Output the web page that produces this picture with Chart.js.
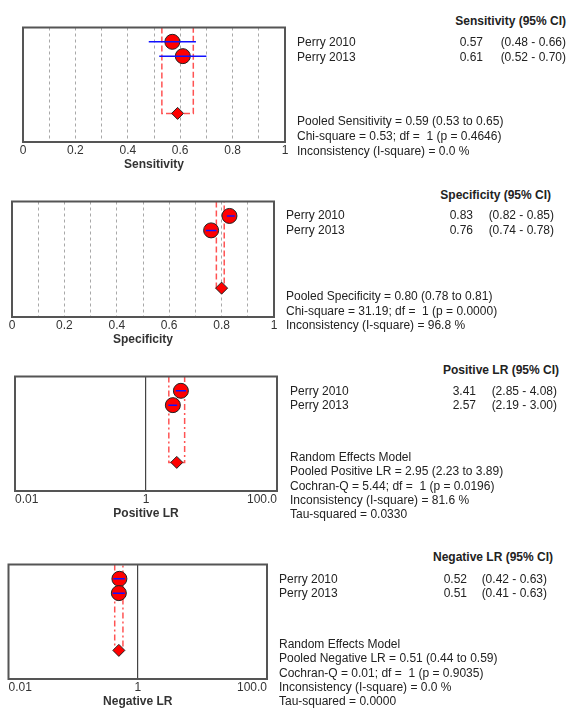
<!DOCTYPE html>
<html>
<head>
<meta charset="utf-8">
<script src="https://cdn.jsdelivr.net/npm/chart.js@4.4.0/dist/chart.umd.min.js"></script>
<style>
  html, body { margin: 0; padding: 0; background: #fff; }
  #page { position: relative; width: 573px; height: 719px; overflow: hidden;
          font-family: "Liberation Sans", Arial, sans-serif; font-size: 12px; color: #222; }
  #page canvas { position: absolute; }
  .t { position: absolute; white-space: pre; line-height: 14px; }
  .r { text-align: right; width: 200px; }
  .b { font-weight: bold; }
</style>
</head>
<body>
<div id="page"></div>
<script>
const studies = ['Perry 2010', 'Perry 2013'];

const sensEst = [0.57, 0.61];
const sensLow = [0.48, 0.52];
const sensHigh = [0.66, 0.70];
const sensPooled = [0.59, 0.53, 0.65];

const specEst = [0.83, 0.76];
const specLow = [0.82, 0.74];
const specHigh = [0.85, 0.78];
const specPooled = [0.80, 0.78, 0.81];

const plrEst = [3.41, 2.57];
const plrLow = [2.85, 2.19];
const plrHigh = [4.08, 3.00];
const plrPooled = [2.95, 2.23, 3.89];

const nlrEst = [0.52, 0.51];
const nlrLow = [0.42, 0.41];
const nlrHigh = [0.63, 0.63];
const nlrPooled = [0.51, 0.44, 0.59];

const propTicks = [0, 0.1, 0.2, 0.3, 0.4, 0.5, 0.6, 0.7, 0.8, 0.9, 1];
const propTickLabels = ['0', '', '0.2', '', '0.4', '', '0.6', '', '0.8', '', '1'];
const lrTicks = [0.01, 1, 100];
const lrTickLabels = ['0.01', '1', '100.0'];

const fmt = v => v.toFixed(2);

const sensStats = [
  `Pooled Sensitivity = ${fmt(sensPooled[0])} (${fmt(sensPooled[1])} to ${fmt(sensPooled[2])})`,
  'Chi-square = 0.53; df =  1 (p = 0.4646)',
  'Inconsistency (I-square) = 0.0 %'
];
const specStats = [
  `Pooled Specificity = ${fmt(specPooled[0])} (${fmt(specPooled[1])} to ${fmt(specPooled[2])})`,
  'Chi-square = 31.19; df =  1 (p = 0.0000)',
  'Inconsistency (I-square) = 96.8 %'
];
const plrStats = [
  'Random Effects Model',
  `Pooled Positive LR = ${fmt(plrPooled[0])} (${fmt(plrPooled[1])} to ${fmt(plrPooled[2])})`,
  'Cochran-Q = 5.44; df =  1 (p = 0.0196)',
  'Inconsistency (I-square) = 81.6 %',
  'Tau-squared = 0.0330'
];
const nlrStats = [
  'Random Effects Model',
  `Pooled Negative LR = ${fmt(nlrPooled[0])} (${fmt(nlrPooled[1])} to ${fmt(nlrPooled[2])})`,
  'Cochran-Q = 0.01; df =  1 (p = 0.9035)',
  'Inconsistency (I-square) = 0.0 %',
  'Tau-squared = 0.0000'
];

// layout: box = [left, right, top, bottom]; text columns and row centres
const panels = [
  { name: 'Sensitivity', est: sensEst, low: sensLow, high: sensHigh, pooled: sensPooled, stats: sensStats,
    log: false, dash: [6, 3], box: [23, 285, 27, 142],
    hdrR: 566, hdrY: 20.5, nameX: 297, rowY: [41.5, 56.5], estR: 483, ciR: 566, statY: 121, statStep: 15 },
  { name: 'Specificity', est: specEst, low: specLow, high: specHigh, pooled: specPooled, stats: specStats,
    log: false, dash: [6, 3], box: [12, 274, 201, 317],
    hdrR: 551, hdrY: 195, nameX: 286, rowY: [215, 230], estR: 473, ciR: 554, statY: 296, statStep: 14.5 },
  { name: 'Positive LR', est: plrEst, low: plrLow, high: plrHigh, pooled: plrPooled, stats: plrStats,
    log: true, dash: [6, 3, 2, 3], box: [15, 277, 376, 491],
    hdrR: 559, hdrY: 370, nameX: 290, rowY: [391, 405], estR: 476, ciR: 557, statY: 457, statStep: 14.25 },
  { name: 'Negative LR', est: nlrEst, low: nlrLow, high: nlrHigh, pooled: nlrPooled, stats: nlrStats,
    log: true, dash: [6, 3, 2, 3], box: [5, 267, 564, 679],
    hdrR: 553, hdrY: 557, nameX: 279, rowY: [579, 593], estR: 467, ciR: 547, statY: 644, statStep: 14.25 }
];

const page = document.getElementById('page');

function addText(str, x, y, opts = {}) {
  const d = document.createElement('div');
  d.className = 't' + (opts.right ? ' r' : '') + (opts.bold ? ' b' : '');
  d.textContent = str;
  d.style.left = (opts.right ? x - 200 : x) + 'px';
  d.style.top = (y - 7) + 'px';
  page.appendChild(d);
}

const frame = {
  id: 'frame',
  afterDraw(chart) {
    const a = chart.chartArea;
    const ctx = chart.ctx;
    ctx.save();
    ctx.strokeStyle = '#555';
    ctx.lineWidth = 2;
    ctx.strokeRect(a.left, a.top, a.right - a.left, a.bottom - a.top);
    ctx.restore();
  }
};

const CANVAS_W = 300;
const PAD_TOP = 8;

panels.forEach(p => {
  const [bl, br, bt, bb] = p.box;
  const canvas = document.createElement('canvas');
  const top = bt - PAD_TOP;
  const h = bb + 34 - top;
  canvas.width = CANVAS_W;
  canvas.height = h;
  canvas.style.left = '0px';
  canvas.style.top = top + 'px';
  page.appendChild(canvas);

  const ciSets = studies.map((s, i) => ({
    label: s + ' CI',
    data: [{ x: p.low[i], y: i + 1 }, { x: p.high[i], y: i + 1 }],
    showLine: true,
    borderColor: '#1010ff',
    borderWidth: 1.5,
    pointRadius: 0,
    order: 0
  }));

  const datasets = [
    ...ciSets,
    {
      label: 'studies',
      data: p.est.map((v, i) => ({ x: v, y: i + 1 })),
      pointRadius: 7.5,
      pointBackgroundColor: '#ff0000',
      pointBorderColor: '#222',
      pointBorderWidth: 1,
      order: 1
    },
    {
      label: 'pooled',
      data: [{ x: p.pooled[0], y: 6 }],
      pointStyle: 'rectRot',
      pointRadius: 6,
      pointBackgroundColor: '#ff0000',
      pointBorderColor: '#222',
      pointBorderWidth: 1,
      order: 1
    },
    {
      label: 'pooled CI',
      data: [{ x: p.pooled[1], y: 0 }, { x: p.pooled[1], y: 6 }, { x: p.pooled[2], y: 6 }, { x: p.pooled[2], y: 0 }],
      showLine: true,
      borderColor: 'rgba(255, 40, 40, 0.8)',
      borderWidth: 1.5,
      borderDash: p.dash,
      pointRadius: 0,
      order: 2
    }
  ];

  const xScale = p.log ? {
    type: 'logarithmic',
    min: 0.01,
    max: 100,
    afterBuildTicks: s => { s.ticks = lrTicks.map(v => ({ value: v })); },
    ticks: {
      callback: (v, i) => lrTickLabels[i],
      align: 'inner',
      autoSkip: false,
      maxRotation: 0,
      padding: 1,
      color: '#333',
      font: { family: 'Liberation Sans', size: 12 }
    },
    grid: {
      drawTicks: false,
      lineWidth: 1.2,
      color: c => (c.tick && c.tick.value === 1 ? '#444' : 'rgba(0,0,0,0)')
    },
    border: { display: false }
  } : {
    type: 'linear',
    min: 0,
    max: 1,
    afterBuildTicks: s => { s.ticks = propTicks.map(v => ({ value: v })); },
    ticks: {
      callback: (v, i) => propTickLabels[i],
      autoSkip: false,
      maxRotation: 0,
      padding: 1,
      color: '#333',
      font: { family: 'Liberation Sans', size: 12 }
    },
    grid: {
      drawTicks: false,
      lineWidth: 1,
      color: c => (c.tick && c.tick.value > 0.01 && c.tick.value < 0.99 ? '#a8a8a8' : 'rgba(0,0,0,0)')
    },
    border: { display: false, dash: [3, 3] }
  };

  xScale.title = {
    display: true,
    text: p.name,
    color: '#333',
    padding: 0,
    font: { family: 'Liberation Sans', size: 12, weight: 'bold' }
  };
  xScale.afterFit = s => { s.height = 30; };

  new Chart(canvas.getContext('2d'), {
    type: 'scatter',
    data: { datasets },
    options: {
      responsive: false,
      animation: false,
      events: [],
      layout: { padding: { left: bl, right: CANVAS_W - br, top: PAD_TOP, bottom: 4 } },
      scales: {
        x: xScale,
        y: { type: 'linear', min: 0, max: 8, reverse: true, display: false }
      },
      plugins: { legend: { display: false }, tooltip: { enabled: false } }
    },
    plugins: [frame]
  });

  addText(p.name + ' (95% CI)', p.hdrR, p.hdrY, { right: true, bold: true });
  studies.forEach((s, i) => {
    addText(s, p.nameX, p.rowY[i]);
    addText(fmt(p.est[i]), p.estR, p.rowY[i], { right: true });
    addText(`(${fmt(p.low[i])} - ${fmt(p.high[i])})`, p.ciR, p.rowY[i], { right: true });
  });
  p.stats.forEach((s, i) => addText(s, p.nameX, p.statY + i * p.statStep));
});
</script>
</body>
</html>
